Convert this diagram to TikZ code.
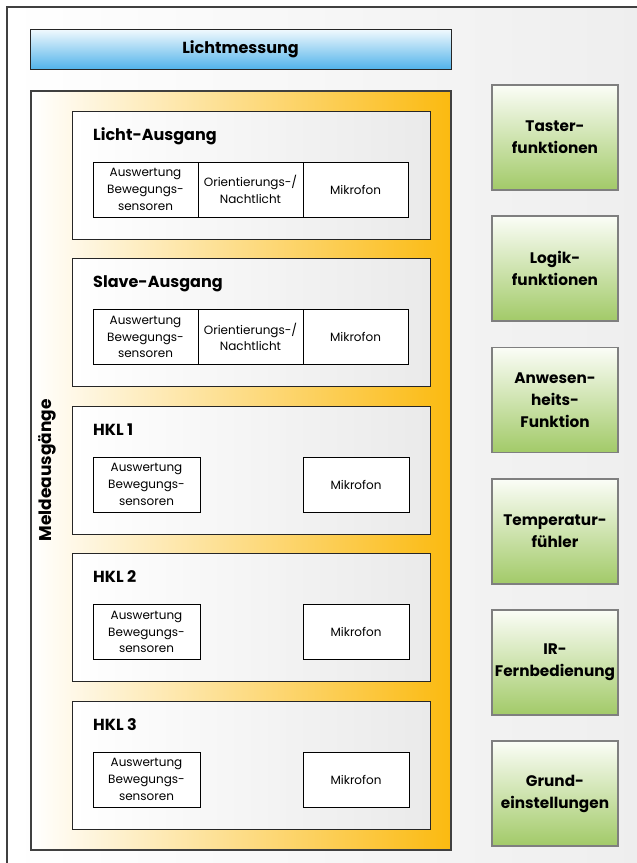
\documentclass[tikz,border=0pt]{standalone}
\usepackage{fontspec}
\setmainfont{Poppins}
\definecolor{frameline}{HTML}{404040}
\definecolor{bgright}{HTML}{EDEDED}
\definecolor{orng}{HTML}{FBBA10}
\definecolor{orngmid}{HTML}{FEE0A0}
\definecolor{innerright}{HTML}{EAEAEA}
\definecolor{bluetop}{HTML}{F2FAFE}
\definecolor{bluebot}{HTML}{52B3EA}
\definecolor{greentop}{HTML}{FBFDF7}
\definecolor{greenbot}{HTML}{A2CA68}
\definecolor{greenline}{HTML}{7F7F7F}
\tikzset{
  bigfont/.style={font=\fontsize{16}{22}\selectfont\bfseries},
  greenfont/.style={font=\fontsize{15.3}{22}\selectfont\bfseries},
  smallfont/.style={font=\fontsize{12}{16.7}\selectfont},
  lichtbar/.style={draw=black!85, line width=1pt, top color=bluetop, bottom color=bluebot,
     minimum width=421pt, minimum height=40pt, inner sep=0pt, bigfont},
  orangebox/.style={draw=frameline, line width=1.3pt, left color=white, middle color=orngmid, right color=orng,
     minimum width=420pt, minimum height=759pt, inner sep=0pt},
  innerbox/.style={draw=black!85, line width=1pt, left color=white, right color=innerright,
     minimum width=358pt, minimum height=128pt, inner sep=0pt},
  titletext/.style={anchor=base west, inner sep=0pt, bigfont},
  cell/.style={draw=black, line width=1pt, fill=white, minimum height=55pt, inner sep=0pt,
     align=center, smallfont},
  greenbox/.style={draw=greenline, line width=1.3pt, top color=greentop, bottom color=greenbot,
     minimum width=126pt, minimum height=105pt, inner sep=0pt, align=center, greenfont},
}
\begin{document}
\begin{tikzpicture}[x=1pt,y=1pt]
\useasboundingbox (0,0) rectangle (637,-863);
\clip (0,0) rectangle (637,-863);
\fill[white] (0,0) rectangle (637,-863);
% outer frame
\draw[frameline, line width=1.5pt, left color=white, right color=bgright] (7,-7) rectangle (680,-900);
% Lichtmessung
\node[lichtbar] (licht) at (240.5,-49) {Lichtmessung};
% Meldeausgaenge
\node[orangebox] (melde) at (241,-470.5) {};
\node[rotate=90, inner sep=0pt, font=\fontsize{17}{20}\selectfont\bfseries] (meldelabel) at (47,-470.5) {Meldeausgänge};
% Licht-Ausgang
\node[innerbox] (lichtaus) at (251,-175) {};
\node[titletext] (lichtausT) at (93,-140) {Licht-Ausgang};
\node[cell, minimum width=105pt] (la1) at (145.5,-189.5) {Auswertung\\Bewegungs-\\sensoren};
\node[cell, minimum width=105pt] (la2) at (250.5,-189.5) {Orientierungs-/\\Nachtlicht};
\node[cell, minimum width=105pt] (la3) at (355.5,-189.5) {Mikrofon};
% Slave-Ausgang
\node[innerbox] (slave) at (251,-322.5) {};
\node[titletext] (slaveT) at (93,-287.5) {Slave-Ausgang};
\node[cell, minimum width=105pt] (sa1) at (145.5,-337) {Auswertung\\Bewegungs-\\sensoren};
\node[cell, minimum width=105pt] (sa2) at (250.5,-337) {Orientierungs-/\\Nachtlicht};
\node[cell, minimum width=105pt] (sa3) at (355.5,-337) {Mikrofon};
% HKL 1
\node[innerbox] (hkla) at (251,-470) {};
\node[titletext] (hklaT) at (93,-435) {HKL 1};
\node[cell, minimum width=107pt] (ha1) at (146.5,-484.5) {Auswertung\\Bewegungs-\\sensoren};
\node[cell, minimum width=106pt] (ha2) at (356,-484.5) {Mikrofon};
% HKL 2
\node[innerbox] (hklb) at (251,-617.5) {};
\node[titletext] (hklbT) at (93,-582.5) {HKL 2};
\node[cell, minimum width=107pt] (hb1) at (146.5,-632) {Auswertung\\Bewegungs-\\sensoren};
\node[cell, minimum width=106pt] (hb2) at (356,-632) {Mikrofon};
% HKL 3
\node[innerbox] (hklc) at (251,-765) {};
\node[titletext] (hklcT) at (93,-730) {HKL 3};
\node[cell, minimum width=107pt] (hc1) at (146.5,-779.5) {Auswertung\\Bewegungs-\\sensoren};
\node[cell, minimum width=106pt] (hc2) at (356,-779.5) {Mikrofon};
% green boxes
\node[greenbox] (g1) at (555,-137.5) {Taster-\\funktionen};
\node[greenbox] (g2) at (555,-268.5) {Logik-\\funktionen};
\node[greenbox] (g3) at (555,-400) {Anwesen-\\heits-\\Funktion};
\node[greenbox] (g4) at (555,-531.5) {Temperatur-\\fühler};
\node[greenbox] (g5) at (555,-662.5) {IR-\\Fernbedienung};
\node[greenbox] (g6) at (555,-793.5) {Grund-\\einstellungen};
\end{tikzpicture}
\end{document}
